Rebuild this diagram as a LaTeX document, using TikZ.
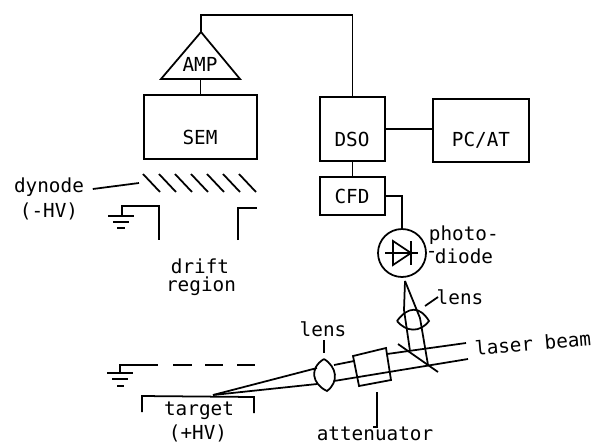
\documentclass[tikz,border=0pt]{standalone}
\usepackage{fontspec}
\setmainfont{DejaVu Sans Mono}
\tikzset{
  box/.style={draw,rectangle,inner sep=0pt,outer sep=0pt},
  lab/.style={inner sep=0pt,font=\fontsize{11}{13}\selectfont},
  wire/.style={line width=1pt},
}
\begin{document}
\begin{tikzpicture}[x=0.02cm,y=-0.02cm,wire]
  \useasboundingbox (0,0) rectangle (594,444);
  % Amplifier
  \coordinate (ampTop) at (201,32);
  \coordinate (ampLeft) at (161,79);
  \coordinate (ampRight) at (240,79);
  \coordinate (ampBase) at (200.5,79);
  \draw (ampTop) -- (ampLeft) -- (ampRight) -- cycle;
  \node[lab] (ampText) at (200,64) {AMP};
  % Boxes
  \node[box,minimum width=2.26cm,minimum height=1.28cm] (sem) at (200.5,127) {};
  \node[box,minimum width=1.3cm,minimum height=1.28cm] (dso) at (352.5,129) {};
  \node[box,minimum width=1.92cm,minimum height=1.26cm] (pcat) at (481,130.5) {};
  \node[box,minimum width=1.3cm,minimum height=0.76cm] (cfd) at (352.5,196) {};
  \node[lab] (semText) at (200,137) {SEM};
  \node[lab] (dsoText) at (352,139) {DSO};
  \node[lab] (pcatText) at (481,140) {PC/AT};
  \node[lab] (cfdText) at (352,196) {CFD};
  % Photodiode
  \node[draw,circle,inner sep=0pt,outer sep=0pt,minimum size=0.96cm] (diode) at (402,253) {};
  \draw (385,253) -- (418,253);
  \draw (393,241) -- (393,265) -- (411,253) -- cycle;
  \draw (411,241) -- (411,265);
  \node[lab,anchor=west] (photoText) at (428,235) {photo-};
  \node[lab,anchor=west] (diodeText) at (425,256) {\raisebox{3pt}{-}\kern-1.5pt diode};
  % Connections
  \draw (ampTop) -- ++(0,-17) -| (dso.north);
  \draw (ampBase) -- (sem.north);
  \draw (dso.east) -- (dso.east -| pcat.west);
  \draw (dso.south) -- (cfd.north);
  \draw (cfd.east) -| (diode.north);
  % Dynode
  \foreach \x in {0,...,6}
    \draw (143+16*\x,174) -- (160+16*\x,192);
  \node[lab] (dynodeText) at (49,187) {dynode};
  \node[lab] (dynodeHv) at (49,211) {(-HV)};
  \coordinate (dynodeEnd) at (139,183);
  \draw (dynodeText.east) ++(8,2) -- (dynodeEnd);
  % Drift region
  \draw (122,216) -- (122,206) -- (159,206) -- (159,240);
  \draw (238,240) -- (238,208) -- (257,208);
  \draw (108,216) -- (134,216);
  \draw (113,222) -- (129,222);
  \draw (117,228) -- (125,228);
  \node[lab] (driftText) at (200,266) {drift};
  \node[lab] (regionText) at (201,286) {region};
  % Grid
  \draw (120,373) -- (120,365) -- (158,365);
  \draw (173,365) -- (192,365);
  \draw (205,365) -- (223,365);
  \draw (237,365) -- (255,365);
  \draw (107,373) -- (133,373);
  \draw (112,379) -- (128,379);
  \draw (117,386) -- (124,386);
  % Target
  \draw (142,412) -- (142,396) -- (254,397) -- (254,413);
  \node[lab] (targetText) at (199,411) {target};
  \node[lab] (targetHv) at (198,433) {(+HV)};
  % Beam to lens
  \coordinate (focus) at (213,395);
  \draw (focus) -- (317,368);
  \draw (focus) -- (317,384);
  % Lens
  \draw (324,359) .. controls (309,368) and (312,384) .. (327,391)
    .. controls (339,382) and (337,367) .. (324,359);
  \node[lab] (lensLeft) at (323,329) {lens};
  \draw (324,340) -- (324,353);
  % Attenuator
  \draw (353,356) -- (386,348) -- (391,380) -- (359,386) -- cycle;
  \draw (334,365) -- (354,361);
  \draw (387,354) -- (466,343);
  \draw (334,381) -- (468,359);
  \draw (377,392) -- (377,427) -- (373,427);
  \node[lab] (attenuatorText) at (375,434) {attenuator};
  % Mirror and side lens
  \draw (398,344) -- (438,372);
  \draw (405,281) -- (404,310) -- (410,351);
  \draw (405,281) -- (420,318) -- (428,365);
  \draw (397,321) .. controls (408,306) and (420,306) .. (429,321)
    .. controls (420,333) and (406,332) .. (397,321);
  \draw (425,306) -- (438,297);
  \node[lab] (lensRight) at (460,297) {lens};
  \node[lab,rotate=5] (laserText) at (533,343) {laser beam};
\end{tikzpicture}
\end{document}
